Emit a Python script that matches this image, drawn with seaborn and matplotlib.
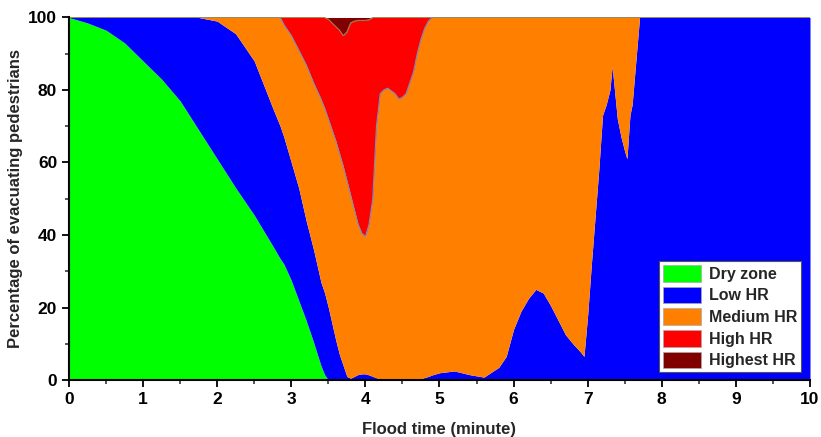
import numpy as np
import matplotlib
matplotlib.use("Agg")
import matplotlib.pyplot as plt
import seaborn as sns
from matplotlib.patches import Patch
from matplotlib.ticker import MultipleLocator

# ---- data ----
categories = ["Dry zone", "Low HR", "Medium HR", "High HR", "Highest HR"]
colors = ["#00ff00", "#0000ff", "#ff8000", "#ff0000", "#800000"]

time = [0, 0.25, 0.5, 0.75, 1.0, 1.25, 1.5, 1.75, 2.0, 2.25,
        2.5, 2.75, 2.85, 2.9, 3.0, 3.1, 3.2, 3.3, 3.4, 3.45,
        3.5, 3.55, 3.6, 3.65, 3.7, 3.75, 3.8, 3.85, 3.9, 3.95,
        4.0, 4.05, 4.1, 4.15, 4.2, 4.25, 4.3, 4.4, 4.45, 4.5,
        4.55, 4.6, 4.65, 4.7, 4.75, 4.8, 4.85, 4.9, 5.0, 5.2,
        5.4, 5.6, 5.8, 5.9, 6.0, 6.1, 6.2, 6.3, 6.4, 6.5,
        6.6, 6.7, 6.8, 6.9, 6.95, 7.0, 7.05, 7.1, 7.15, 7.2,
        7.25, 7.3, 7.33, 7.4, 7.45, 7.5, 7.53, 7.57, 7.6, 7.65,
        7.7, 8.0, 9.0, 10.0]

# cumulative upper edge of each layer (percent)
dry_top = [100, 98.5, 96.5, 93, 88, 83, 77, 69, 61, 53,
           45.5, 37, 33.5, 32, 27.5, 22, 16.5, 10.5, 4, 1.5,
           0, 0, 0, 0, 0, 0, 0, 0, 0, 0,
           0, 0, 0, 0, 0, 0, 0, 0, 0, 0,
           0, 0, 0, 0, 0, 0, 0, 0, 0, 0,
           0, 0, 0, 0, 0, 0, 0, 0, 0, 0,
           0, 0, 0, 0, 0, 0, 0, 0, 0, 0,
           0, 0, 0, 0, 0, 0, 0, 0, 0, 0,
           0, 0, 0, 0]

low_top = [100, 100, 100, 100, 100, 100, 100, 100, 99, 95.5,
           88, 75, 70, 67, 60, 53, 44, 36, 27, 24,
           20, 15.5, 11, 7, 4, 1, 0.5, 1, 1.5, 1.7,
           1.7, 1.4, 1.0, 0.6, 0.3, 0, 0, 0, 0, 0,
           0, 0, 0, 0.2, 0.4, 0.7, 1.0, 1.4, 2, 2.5,
           1.5, 0.8, 3.5, 6.5, 14, 19, 22.5, 25, 24, 20.5,
           16.5, 12.5, 10, 7.8, 6.5, 18, 32, 45, 58, 73,
           76, 80, 86.5, 72, 67, 63, 61, 73, 76, 88,
           100, 100, 100, 100]

medium_top = [100, 100, 100, 100, 100, 100, 100, 100, 100, 100,
              100, 100, 100, 98, 95, 91, 87, 82, 77.5, 75,
              72, 69, 66, 62.5, 59, 55, 51, 47, 43, 40.5,
              39.5, 43, 50, 70, 79, 80, 80.5, 79, 77.5, 78,
              79, 82, 85, 90, 94, 97, 99, 100, 100, 100,
              100, 100, 100, 100, 100, 100, 100, 100, 100, 100,
              100, 100, 100, 100, 100, 100, 100, 100, 100, 100,
              100, 100, 100, 100, 100, 100, 100, 100, 100, 100,
              100, 100, 100, 100]

high_top = [100, 100, 100, 100, 100, 100, 100, 100, 100, 100,
            100, 100, 100, 100, 100, 100, 100, 100, 100, 100,
            99.5, 98.5, 97.5, 96.5, 95, 96, 98.5, 99, 99.2, 99.2,
            99.2, 99.4, 100, 100, 100, 100, 100, 100, 100, 100,
            100, 100, 100, 100, 100, 100, 100, 100, 100, 100,
            100, 100, 100, 100, 100, 100, 100, 100, 100, 100,
            100, 100, 100, 100, 100, 100, 100, 100, 100, 100,
            100, 100, 100, 100, 100, 100, 100, 100, 100, 100,
            100, 100, 100, 100]

x_ticks = [0, 1, 2, 3, 4, 5, 6, 7, 8, 9, 10]
y_ticks = [0, 20, 40, 60, 80, 100]

# ---- build layers ----
t = np.array(time)
edges = np.vstack([np.zeros_like(t), dry_top, low_top, medium_top, high_top,
                   np.full_like(t, 100.0)])
layers = np.diff(edges, axis=0)

sns.set_theme(style="ticks")
plt.rcParams["font.family"] = ["Liberation Sans", "DejaVu Sans"]
plt.rcParams["font.weight"] = "bold"

fig = plt.figure(figsize=(8.21, 4.37), dpi=100)
ax = fig.add_axes([0.084, 0.1304, 0.9026, 0.8296])

ax.stackplot(t, layers, colors=colors, linewidth=0, antialiased=True)
sns.lineplot(x=t, y=np.array(medium_top), ax=ax, color="#7f8fb5",
             linewidth=0.8, estimator=None, sort=False)
sns.lineplot(x=t, y=np.array(high_top), ax=ax, color="#9a8a5a",
             linewidth=0.7, estimator=None, sort=False)

ax.set_xlim(0, 10)
ax.set_ylim(0, 100)
ax.set_xticks(x_ticks)
ax.set_yticks(y_ticks)
ax.xaxis.set_minor_locator(MultipleLocator(0.5))
ax.yaxis.set_minor_locator(MultipleLocator(10))
ax.tick_params(which="major", direction="out", length=5, width=1.3,
               labelsize=12.5, colors="black", bottom=True, left=True)
ax.tick_params(which="minor", direction="out", length=3, width=1.1,
               bottom=True, left=True)
for lbl in ax.get_xticklabels() + ax.get_yticklabels():
    lbl.set_fontweight("bold")

for s in ["top", "right"]:
    ax.spines[s].set_visible(False)
for s in ["left", "bottom"]:
    ax.spines[s].set_color("black")
    ax.spines[s].set_linewidth(1.5)

ax.set_xlabel("Flood time (minute)", fontsize=12, fontweight="bold", labelpad=11)
ax.set_ylabel("Percentage of evacuating pedestrians", fontsize=12,
              fontweight="bold", labelpad=4)

handles = [Patch(facecolor=c, edgecolor="#aaaaaa", linewidth=0.5) for c in colors]
leg = ax.legend(handles, categories, loc="lower right",
                bbox_to_anchor=(0.992, 0.012), fontsize=11.5,
                frameon=True, fancybox=False, framealpha=1,
                handlelength=2.4, handleheight=1.25, labelspacing=0.3,
                borderpad=0.25, handletextpad=0.45, borderaxespad=0.2)
leg.get_frame().set_edgecolor("#555555")
leg.get_frame().set_linewidth(0.8)
for txt in leg.get_texts():
    txt.set_fontweight("bold")

fig.savefig("out.png", dpi=100)
